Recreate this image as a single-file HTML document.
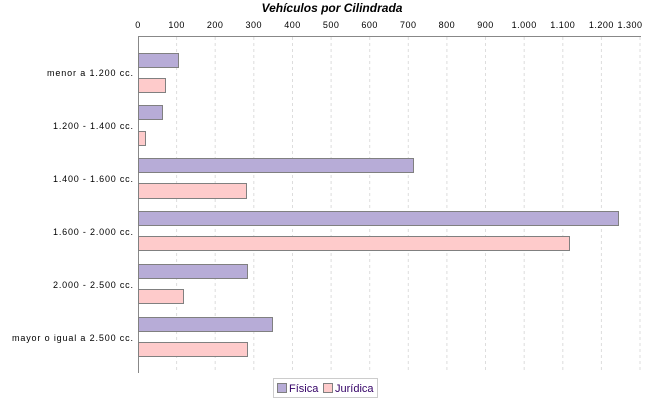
<!DOCTYPE html>
<html><head><style>body{margin:0;background:#fff}svg{display:block}text{font-family:"Liberation Sans",sans-serif}</style></head>
<body>
<svg width="650" height="400" xmlns="http://www.w3.org/2000/svg">
<rect width="650" height="400" fill="#fff"/>
<text x="332" y="12" text-anchor="middle" font-size="12" font-weight="bold" font-style="italic">Vehículos por Cilindrada</text>
<g stroke="#ddd" stroke-dasharray="3,3">
<line x1="176.6" y1="37" x2="176.6" y2="373"/><line x1="215.2" y1="37" x2="215.2" y2="373"/><line x1="253.8" y1="37" x2="253.8" y2="373"/><line x1="292.5" y1="37" x2="292.5" y2="373"/><line x1="331.1" y1="37" x2="331.1" y2="373"/><line x1="369.7" y1="37" x2="369.7" y2="373"/><line x1="408.3" y1="37" x2="408.3" y2="373"/><line x1="446.9" y1="37" x2="446.9" y2="373"/><line x1="485.5" y1="37" x2="485.5" y2="373"/><line x1="524.2" y1="37" x2="524.2" y2="373"/><line x1="562.8" y1="37" x2="562.8" y2="373"/><line x1="601.4" y1="37" x2="601.4" y2="373"/><line x1="640" y1="37" x2="640" y2="373"/>
</g>
<line x1="138" y1="36.5" x2="641" y2="36.5" stroke="#888"/>
<line x1="138.5" y1="36" x2="138.5" y2="373" stroke="#888"/>
<g font-size="9" text-anchor="middle" fill="#000" letter-spacing="0.5">
<text x="138" y="28">0</text><text x="176.6" y="28">100</text><text x="215.2" y="28">200</text><text x="253.8" y="28">300</text><text x="292.5" y="28">400</text><text x="331.1" y="28">500</text><text x="369.7" y="28">600</text><text x="408.3" y="28">700</text><text x="446.9" y="28">800</text><text x="485.5" y="28">900</text><text x="524.2" y="28">1.000</text><text x="562.8" y="28">1.100</text><text x="601.4" y="28">1.200</text><text x="630" y="28">1.300</text>
</g>
<g font-size="9" fill="#000">
<text x="47" y="76" textLength="86" lengthAdjust="spacing">menor a 1.200 cc.</text>
<text x="53" y="129" textLength="80" lengthAdjust="spacing">1.200 - 1.400 cc.</text>
<text x="53" y="182" textLength="80" lengthAdjust="spacing">1.400 - 1.600 cc.</text>
<text x="53" y="235" textLength="80" lengthAdjust="spacing">1.600 - 2.000 cc.</text>
<text x="53" y="288" textLength="80" lengthAdjust="spacing">2.000 - 2.500 cc.</text>
<text x="12" y="341" textLength="121" lengthAdjust="spacing">mayor o igual a 2.500 cc.</text>
</g>
<g stroke="#808080" stroke-width="1">
<rect x="138.5" y="53.5" width="40" height="14" fill="#b7acd7"/>
<rect x="138.5" y="78.5" width="27" height="14" fill="#fecbcb"/>
<rect x="138.5" y="105.5" width="24" height="14" fill="#b7acd7"/>
<rect x="138.5" y="131.5" width="7" height="14" fill="#fecbcb"/>
<rect x="138.5" y="158.5" width="275" height="14" fill="#b7acd7"/>
<rect x="138.5" y="183.5" width="108" height="15" fill="#fecbcb"/>
<rect x="138.5" y="211.5" width="480" height="14" fill="#b7acd7"/>
<rect x="138.5" y="236.5" width="431" height="14" fill="#fecbcb"/>
<rect x="138.5" y="264.5" width="109" height="14" fill="#b7acd7"/>
<rect x="138.5" y="289.5" width="45" height="14" fill="#fecbcb"/>
<rect x="138.5" y="317.5" width="134" height="14" fill="#b7acd7"/>
<rect x="138.5" y="342.5" width="109" height="14" fill="#fecbcb"/>
</g>
<rect x="273.5" y="378.5" width="104" height="19" fill="#fff" stroke="#ccc"/>
<rect x="277.5" y="383.5" width="9" height="9" fill="#b7acd7" stroke="#808080"/>
<text x="289" y="392" font-size="11" fill="#330066">Física</text>
<rect x="323.5" y="383.5" width="9" height="9" fill="#fecbcb" stroke="#808080"/>
<text x="335" y="392" font-size="11" fill="#330066">Jurídica</text>
</svg>
</body></html>
